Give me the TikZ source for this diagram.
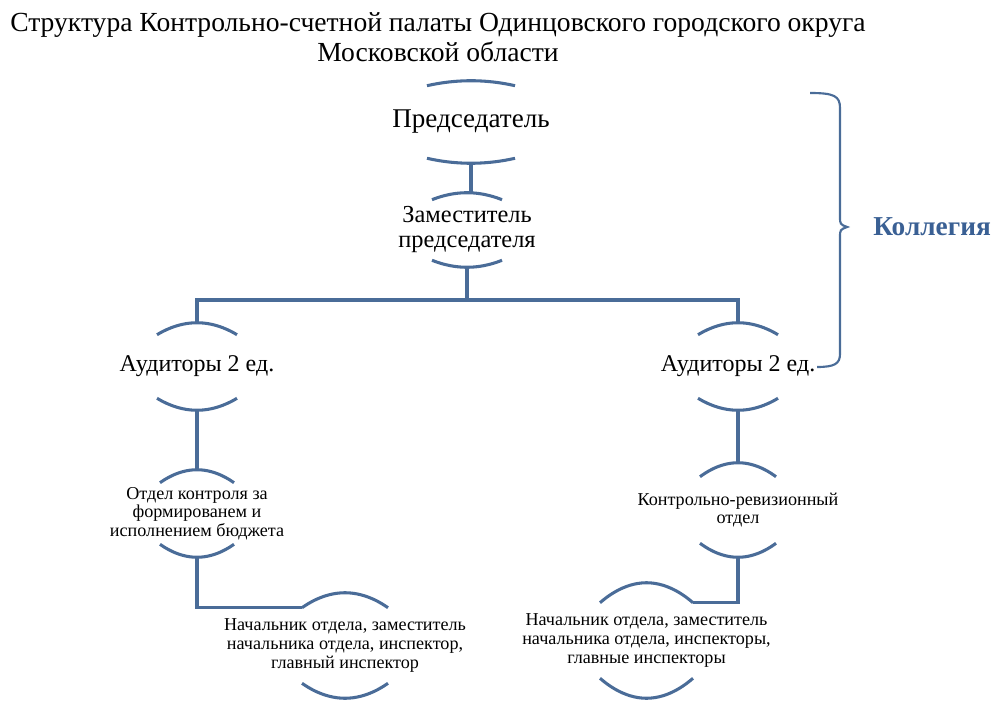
\documentclass[tikz,border=0pt]{standalone}
\usepackage{fontspec}
\setmainfont{Liberation Serif}
\usetikzlibrary{positioning}
\definecolor{linecol}{RGB}{74,108,152}
\definecolor{kolcol}{RGB}{58,96,148}
\tikzset{
        x=0.75pt, y=0.75pt, % one unit is one pixel of the reference
        line/.style={draw=linecol, line width=2.3pt}, % connectors and arcs
        brace line/.style={draw=linecol, line width=1.6pt},
    }
\tikzset{
      bracket/.style={
		inner sep=0pt,
		align=center,
		minimum height={#1*0.75pt},
	  },
  		big text/.style={
    	font=\fontsize{18pt}{19pt}\selectfont,
      },
  		small text/.style={
    	font=\fontsize{13.6pt}{14pt}\selectfont,
      }
  	}
\begin{document}
\begin{tikzpicture}
    \useasboundingbox (0,0) rectangle (1005,714);
    \node [align=center, font=\fontsize{20.7pt}{22.5pt}\selectfont] (title) at (438,677)
      {Структура Контрольно-счетной палаты Одинцовского городского округа\\Московской области};
    \node [bracket=82, big text, font=\fontsize{20.3pt}{21pt}\selectfont] (pred) at (471,592) {Председатель};
    \node [bracket=74, big text, font=\fontsize{18.3pt}{18.75pt}\selectfont] (zam) at (467,484) {Заместитель\\председателя};
    \node [bracket=87, big text] (aud1) at (197,347.5) {Аудиторы 2 ед.};
    \node [bracket=87, big text] (aud2) at (738,347.5) {Аудиторы 2 ед.};
    \node [bracket=87, small text] (otd1) at (197,200.5) {Отдел контроля за\\формированем и\\исполнением бюджета};
    \node [bracket=94, small text] (otd2) at (738,204) {Контрольно-ревизионный\\отдел};
    \node [bracket=105, small text] (nach1) at (345,68.5) {Начальник отдела, заместитель\\начальника отдела, инспектор,\\главный инспектор};
    \node [bracket=115, small text] (nach2) at (646.5,73.5) {Начальник отдела, заместитель\\начальника отдела, инспекторы,\\главные инспекторы};
    \node [font=\fontsize{20.5pt}{22pt}\selectfont\bfseries, text=kolcol] (koll) at (932,487) {Коллегия};

    % arcs above and below every unit
    \foreach \n/\w/\s in {pred/44/5, zam/35/7, aud1/40/12, aud2/40/12, otd1/37/13, otd2/38/14, nach1/43/15, nach2/46.5/20}{
      \draw [line] ([shift={(-\w,-\s)}]\n.north) parabola bend (\n.north) ([shift={(\w,-\s)}]\n.north);
      \draw [line] ([shift={(-\w,\s)}]\n.south) parabola bend (\n.south) ([shift={(\w,\s)}]\n.south);
    }

    % connectors
    \coordinate (bar) at (467,414);
    \draw [line] (pred.south) -- (pred.south |- zam.north);
    \draw [line] (zam.south) -- (bar) -| (aud1.north);
    \draw [line] (bar) -| (aud2.north);
    \draw [line] (aud1.south) -- (otd1.north);
    \draw [line] (aud2.south) -- (otd2.north);
    \draw [line] (otd1.south) |- ([shift={(-43,-15)}]nach1.north);
    \draw [line] (otd2.south) |- ([shift={(46.5,-20)}]nach2.north);

    % brace of the board
    \coordinate (tip) at ([xshift=-16pt]koll.west);
    \draw [brace line] (810,621) .. controls (834,621) and (840,618) .. (840,606)
      -- ([yshift=8]tip -| 840,0) .. controls ([yshift=2]tip -| 840,0) .. (tip)
      .. controls ([yshift=-2]tip -| 840,0) .. ([yshift=-8]tip -| 840,0)
      -- (840,360) .. controls (840,350) and (834,347) .. (817,347);
\end{tikzpicture}
\end{document}
